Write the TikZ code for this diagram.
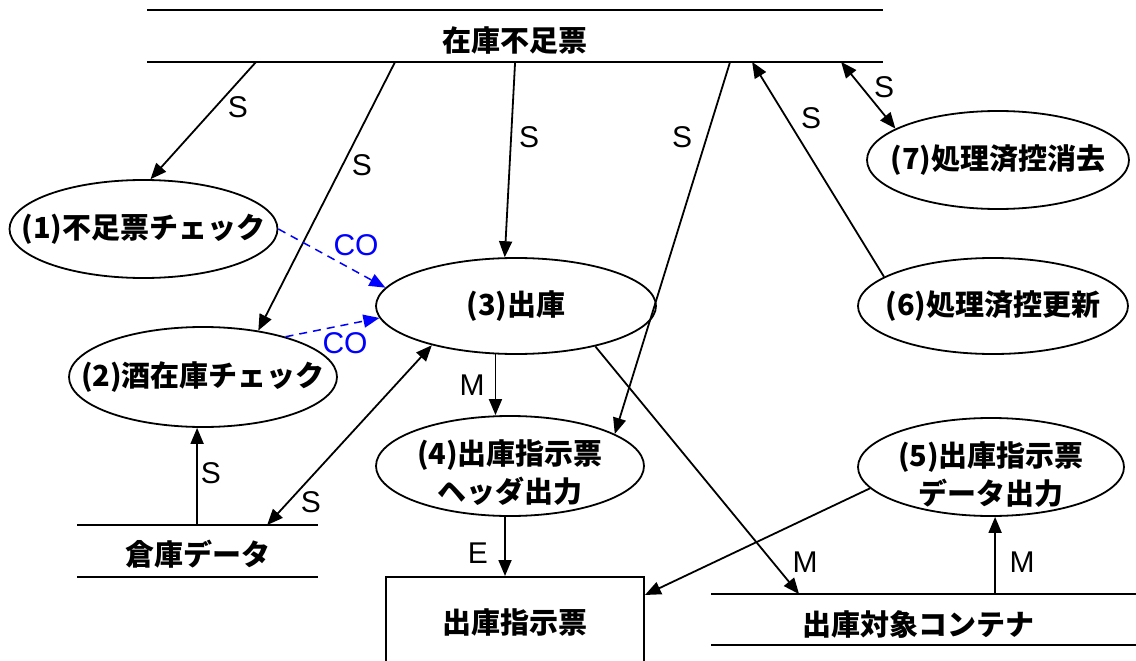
\documentclass[tikz,border=0pt]{standalone}
\usepackage{fontspec}
\setmainfont{Liberation Sans}
\newfontfamily\jp{Noto Sans CJK JP}
\usetikzlibrary{arrows.meta,shapes.geometric}
\begin{document}
\begin{tikzpicture}[x=1pt,y=-1pt,
  line width=1.8pt,
  proc/.style={ellipse, draw, line width=1.8pt, inner sep=0pt},
  txt/.style={inner sep=0pt, align=center, font=\jp\bfseries\fontsize{29}{38}\selectfont},
  store/.style={inner sep=0pt},
  arr/.style={-{Triangle[length=16pt,width=13pt]}},
  darr/.style={{Triangle[length=16pt,width=13pt]}-{Triangle[length=16pt,width=13pt]}},
  co/.style={draw=blue, dash pattern=on 8pt off 6pt, line width=1.5pt, -{Triangle[length=16pt,width=13pt,fill=blue]}},
  lab/.style={font=\fontsize{30}{32}\selectfont, inner sep=0pt},
]
\path[use as bounding box] (0,0) rectangle (1136,661);
\clip (0,0) rectangle (1136,661);

% data stores
\node[store, minimum width=734pt, minimum height=50pt] (ds1) at (515,36) {};
\draw (ds1.north west) -- (ds1.north east) (ds1.south west) -- (ds1.south east);
\node[txt] (ds1t) at (515,40) {在庫不足票};

\node[store, minimum width=239pt, minimum height=50pt] (ds2) at (197.5,551) {};
\draw (ds2.north west) -- (ds2.north east) (ds2.south west) -- (ds2.south east);
\node[txt] (ds2t) at (198,554) {倉庫データ};

\node[store, minimum width=424pt, minimum height=49pt] (ds3) at (924,619.5) {};
\draw (ds3.north west) -- (ds3.north east) (ds3.south west) -- (ds3.south east);
\node[txt] (ds3t) at (918,624) {出庫対象コンテナ};

% output box
\node[draw, line width=1.8pt, minimum width=258pt, minimum height=130pt, anchor=north, inner sep=0pt] (box) at (515,576) {};
\node[txt] (boxt) at (515,622) {出庫指示票};

% processes
\node[proc, minimum width=268pt, minimum height=98pt] (e1) at (143.5,229) {};
\node[txt] (e1t) at (e1) {(1)不足票チェック};
\node[proc, minimum width=268pt, minimum height=100pt] (e2) at (203,377) {};
\node[txt] (e2t) at (e2) {(2)酒在庫チェック};
\node[proc, minimum width=280pt, minimum height=96pt] (e3) at (516,306) {};
\node[txt] (e3t) at (e3) {(3)出庫};
\node[proc, minimum width=268pt, minimum height=100pt] (e4) at (510,466) {};
\node[txt] (e4t) at (510,473) {(4)出庫指示票\\ヘッダ出力};
\node[proc, minimum width=266pt, minimum height=98pt] (e5) at (991,467) {};
\node[txt] (e5t) at (991,475) {(5)出庫指示票\\データ出力};
\node[proc, minimum width=270pt, minimum height=96pt] (e6) at (993,306) {};
\node[txt] (e6t) at (e6) {(6)処理済控更新};
\node[proc, minimum width=262pt, minimum height=98pt] (e7) at (998,160) {};
\node[txt] (e7t) at (e7) {(7)処理済控消去};

% connectors
\draw[arr] ([xshift=109pt]ds1.south west) -- (e1.82);
\draw[arr] ([xshift=248pt]ds1.south west) -- (e2.40);
\draw[arr] ([xshift=368pt]ds1.south west) -- (e3.103);
\draw[arr] ([xshift=583pt]ds1.south west) -- (e4.17);
\draw[arr] (e6.165) -- ([xshift=605pt]ds1.south west);
\draw[darr] ([xshift=694pt]ds1.south west) -- (e7.163);
\draw[co] (e1.east) -- (e3.172);
\draw[co] (e2.26) -- (e3.185);
\draw[arr] (e3.247) -- (e3.247 |- e4.north);
\draw[arr] ([xshift=120pt]ds2.north west) -- ([xshift=120pt]ds2.north west |- e2.south);
\draw[darr] ([xshift=190pt]ds2.north west) -- (e3.205);
\draw[arr] ([xshift=-5pt]e4.south) -- ([xshift=-5pt]e4.south |- box.north);
\draw[arr] (e3.333) -- ([xshift=88pt]ds3.north west);
\draw[arr] (e5.190) -- ([yshift=-19pt]box.north east);
\draw[arr] ([xshift=284pt]ds3.north west) -- ([xshift=284pt]ds3.north west |- e5.south);

% labels
\node[lab] (l1) at (238,107) {S};
\node[lab] (l2) at (362,165) {S};
\node[lab] (l3) at (529,137) {S};
\node[lab] (l4) at (682,137) {S};
\node[lab] (l6) at (811,118) {S};
\node[lab] (l7) at (884,87) {S};
\node[lab, text=blue] (lco1) at (356,245) {CO};
\node[lab, text=blue] (lco2) at (345,343) {CO};
\node[lab] (lm1) at (472,385) {M};
\node[lab] (ls8) at (211,473) {S};
\node[lab] (ls9) at (311,502) {S};
\node[lab] (le) at (478,553) {E};
\node[lab] (lm2) at (805,562) {M};
\node[lab] (lm3) at (1022,562) {M};
\end{tikzpicture}
\end{document}
